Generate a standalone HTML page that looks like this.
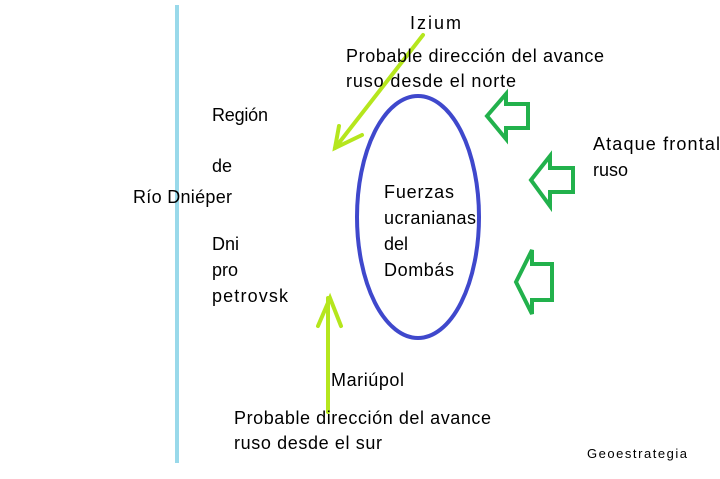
<!DOCTYPE html>
<html><head><style>html,body{margin:0;padding:0;background:#fff;}svg{display:block;}</style></head>
<body>
<svg width="720" height="479" viewBox="0 0 720 479" xmlns="http://www.w3.org/2000/svg" font-family="Liberation Sans, sans-serif" font-size="18" fill="#000">
<line x1="177" y1="5" x2="177" y2="463" stroke="#99d9ea" stroke-width="4"/>
<ellipse cx="418" cy="217" rx="61" ry="121" fill="none" stroke="#3f48cc" stroke-width="4"/>
<g fill="none" stroke="#22b14c" stroke-width="4" stroke-linejoin="miter">
<polygon points="487,116 506,94 506,104 528,104 528,128 506,128 506,139"/>
<polygon points="531,180 550,156 550,168 573,168 573,192 550,192 550,206"/>
<polygon points="516,282 532,250 532,264 552,264 552,300 532,300 532,314"/>
</g>
<g stroke="#b5e61d" stroke-width="4" stroke-linecap="round" fill="none">
<line x1="423" y1="35" x2="335" y2="148"/>
<polyline points="339,126 335,148 362,135"/>
<line x1="328" y1="412" x2="328" y2="298"/>
<polyline points="318,326 330,298 341,326"/>
</g>
<text x="410" y="29" textLength="51">Izium</text>
<text x="346" y="62" textLength="258">Probable dirección del avance</text>
<text x="346" y="87" textLength="170">ruso desde el norte</text>
<text x="212" y="121" textLength="56">Región</text>
<text x="212" y="172">de</text>
<text x="133" y="203" textLength="99">Río Dniéper</text>
<text x="212" y="250">Dni</text>
<text x="212" y="276">pro</text>
<text x="212" y="302" textLength="76">petrovsk</text>
<text x="384" y="198" textLength="70">Fuerzas</text>
<text x="384" y="224" textLength="92">ucranianas</text>
<text x="384" y="250">del</text>
<text x="384" y="276" textLength="70">Dombás</text>
<text x="593" y="150" textLength="127">Ataque frontal</text>
<text x="593" y="176">ruso</text>
<text x="331" y="386" textLength="73">Mariúpol</text>
<text x="234" y="424" textLength="257">Probable dirección del avance</text>
<text x="234" y="449" textLength="148">ruso desde el sur</text>
<text x="587" y="458" font-size="13" textLength="100">Geoestrategia</text>
</svg>
</body></html>
